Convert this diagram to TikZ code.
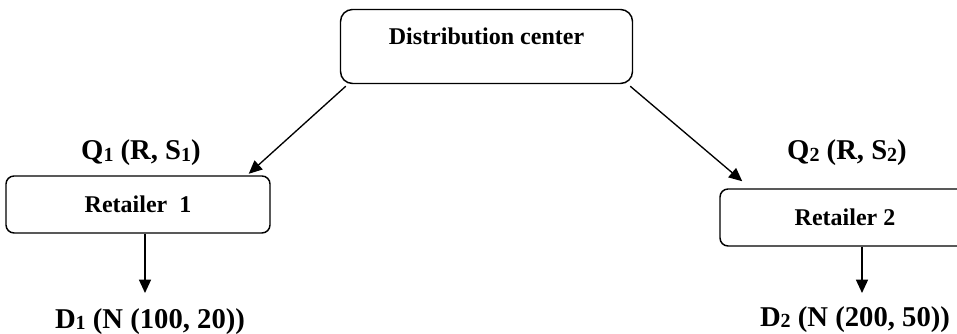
\documentclass[tikz,border=0pt]{standalone}
\usepackage{fontspec}
\setmainfont{Liberation Serif}
\usetikzlibrary{arrows.meta}

\newcommand{\idx}[1]{\raisebox{-0.12ex}{\fontsize{15}{16}\selectfont #1}}

\begin{document}
\begin{tikzpicture}[
x=0.75pt, y=-0.75pt,
arr/.style={draw, line width=1pt, -{Triangle[length=10pt,width=9pt]}}
]

\tikzstyle{box} = [draw, rounded corners=6pt, line width=1.1pt, minimum height=42.75pt, font=\fontsize{18}{20}\selectfont\bfseries]
\tikzstyle{lbl} = [inner sep=0pt, font=\fontsize{21.5}{24}\selectfont\bfseries]

\useasboundingbox (0,0) rectangle (957,334);
\clip (0,0) rectangle (957,334);

% boxes
\node[box, minimum width=219pt, minimum height=55.5pt, text depth=15pt, rounded corners=9pt] (dc) at (486.5,46.5) {Distribution center};
\node[box, minimum width=198pt] (r1) at (138,204.5) {Retailer\ \ 1};
\node[box, minimum width=187.5pt] (r2) at (845,217.5) {Retailer 2};

% order and demand labels
\node[lbl] (q1) at (141,153) {Q\idx{1} (R, S\idx{1})};
\node[lbl] (q2) at (847,153) {Q\idx{2} (R, S\idx{2})};
\node[lbl, anchor=north] (d1) at (150,308) {D\idx{1} (N (100, 20))};
\node[lbl, anchor=north] (d2) at (855,306) {D\idx{2} (N (200, 50))};

\draw[arr] ([xshift=4.5pt,yshift=-1.5pt]dc.south west) -- ([xshift=-16.5pt,yshift=1.1pt]r1.north east);
\draw[arr] ([xshift=-2.25pt,yshift=-1.5pt]dc.south east) -- ([xshift=17.25pt,yshift=5.25pt]r2.north west);
\draw[arr] ([xshift=5.25pt]r1.south) -- ([xshift=5.25pt,yshift=11.25pt]r1.south |- d1.north);
\draw[arr] ([xshift=12.75pt]r2.south) -- ([xshift=12.75pt,yshift=9.75pt]r2.south |- d2.north);
\end{tikzpicture}
\end{document}
